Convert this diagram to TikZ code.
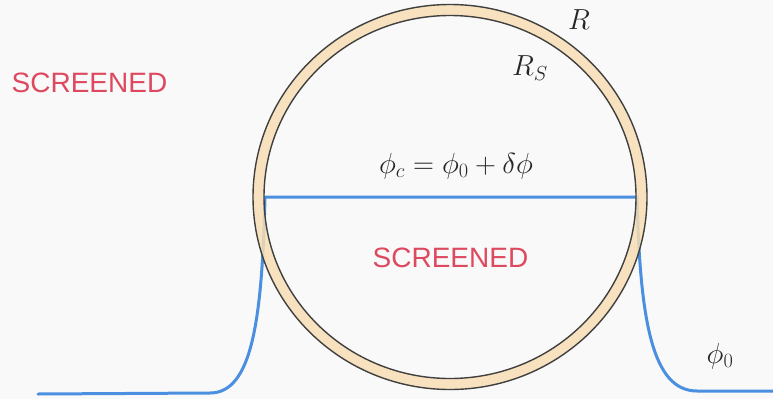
\RequirePackage{fix-cm}
\documentclass[tikz,border=0pt]{standalone}
\usepackage{fontspec}
\setsansfont{Liberation Sans}
\begin{document}
\begin{tikzpicture}[x=1pt,y=-1pt,
  lbl/.style={text=scr,font=\sffamily\fontsize{28}{32}\selectfont,inner sep=0pt},
  mathlbl/.style={text=black!85,inner sep=0pt,font=\fontsize{29}{34}\selectfont},
  prof/.style={draw=blueline,line width=3pt,line cap=round}]
\definecolor{scr}{HTML}{DD4A60}
\definecolor{blueline}{HTML}{4A8FE0}
\definecolor{ring}{HTML}{F8DDB4}
\definecolor{bg}{HTML}{F9F9F9}
\fill[bg] (0,0) rectangle (773,399);
\useasboundingbox (0,0) rectangle (773,399);
% profile
\coordinate (pl) at (265,197);
\coordinate (pr) at (637,197);
\draw[prof] (38,394) -- (210,393) .. controls (252,393) and (262,320) .. (pl) -- (pr)
  .. controls (640,320) and (652,391) .. (697,391) -- (773,391);
% ring
\fill[ring,fill opacity=0.85,even odd rule] (450,197) ellipse [x radius=197,y radius=192.5]
  (450,197) ellipse [x radius=186,y radius=181.5];
\draw[black!75,line width=1.4pt] (450,197) ellipse [x radius=197,y radius=192.5];
\draw[black!75,line width=1.4pt] (450,197) ellipse [x radius=186,y radius=181.5];
% labels
\node[lbl] (s1) at (89.5,83) {SCREENED};
\node[lbl] (s2) at (450.5,258) {SCREENED};
\node[mathlbl] (eq) at (456,166) {$\phi_c=\phi_0+\delta\phi$};
\node[mathlbl] (R) at (579,20) {$R$};
\node[mathlbl] (RS) at (530,68) {$R_S$};
\node[mathlbl] (p0) at (720,356) {$\phi_0$};
\end{tikzpicture}
\end{document}
